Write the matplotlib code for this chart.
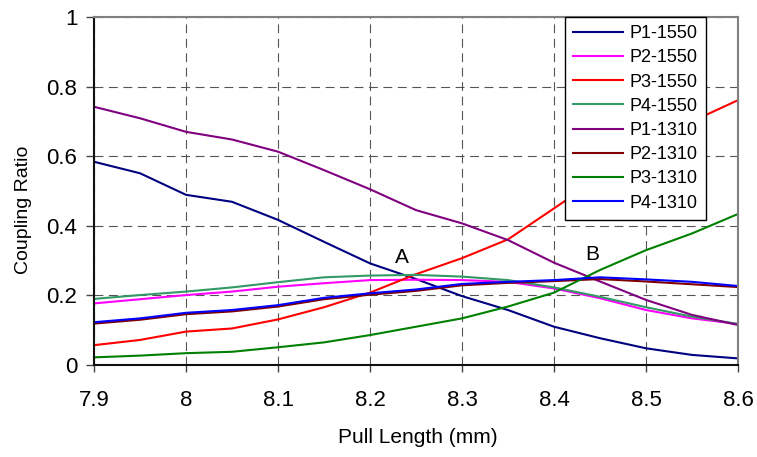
import matplotlib.pyplot as plt
from matplotlib.ticker import FormatStrFormatter

plt.rcParams["font.family"] = ["Liberation Sans", "DejaVu Sans"]

# Longitud de estiramiento (mm)
pull_length = [7.9, 7.95, 8.0, 8.05, 8.1, 8.15, 8.2, 8.25, 8.3, 8.35, 8.4, 8.45, 8.5, 8.55, 8.6]

# Razones de acoplamiento
p1_1550 = [0.584, 0.551, 0.489, 0.469, 0.417, 0.354, 0.292, 0.247, 0.198, 0.158, 0.110, 0.077, 0.048, 0.029, 0.019]
p2_1550 = [0.177, 0.189, 0.201, 0.211, 0.225, 0.235, 0.244, 0.245, 0.244, 0.239, 0.220, 0.192, 0.158, 0.134, 0.118]
p3_1550 = [0.057, 0.072, 0.096, 0.105, 0.131, 0.166, 0.208, 0.261, 0.307, 0.361, 0.450, 0.540, 0.620, 0.700, 0.761]
p4_1550 = [0.190, 0.201, 0.211, 0.223, 0.238, 0.252, 0.257, 0.259, 0.254, 0.244, 0.223, 0.196, 0.166, 0.139, 0.118]
p1_1310 = [0.742, 0.709, 0.670, 0.648, 0.613, 0.560, 0.505, 0.445, 0.407, 0.359, 0.294, 0.240, 0.187, 0.144, 0.115]
p2_1310 = [0.119, 0.130, 0.146, 0.154, 0.168, 0.189, 0.202, 0.213, 0.229, 0.236, 0.241, 0.247, 0.240, 0.232, 0.224]
p3_1310 = [0.022, 0.027, 0.034, 0.038, 0.051, 0.065, 0.086, 0.110, 0.134, 0.168, 0.208, 0.273, 0.330, 0.378, 0.434]
p4_1310 = [0.123, 0.134, 0.150, 0.158, 0.172, 0.193, 0.206, 0.217, 0.233, 0.239, 0.244, 0.252, 0.246, 0.239, 0.227]

series = [
    ("P1-1550", p1_1550, "#000080"),
    ("P2-1550", p2_1550, "#ff00ff"),
    ("P3-1550", p3_1550, "#ff0000"),
    ("P4-1550", p4_1550, "#339966"),
    ("P1-1310", p1_1310, "#800080"),
    ("P2-1310", p2_1310, "#800000"),
    ("P3-1310", p3_1310, "#008000"),
    ("P4-1310", p4_1310, "#0000ff"),
]

fig = plt.figure(figsize=(7.57, 4.57), dpi=100)
ax = fig.add_axes([0.1242, 0.2013, 0.8507, 0.7615])

for nombre, valores, color in series:
    ax.plot(pull_length, valores, color=color, linewidth=1.5, label=nombre)

ax.set_xlim(7.9, 8.6)
ax.set_ylim(0, 1)
ax.set_xticks([7.9, 8.0, 8.1, 8.2, 8.3, 8.4, 8.5, 8.6])
ax.set_yticks([0, 0.2, 0.4, 0.6, 0.8, 1.0])
ax.xaxis.set_major_formatter(FormatStrFormatter("%g"))
ax.yaxis.set_major_formatter(FormatStrFormatter("%g"))

ax.grid(True, color="#555555", linewidth=0.8, linestyle=(0, (8, 5)))
ax.set_axisbelow(True)

ax.tick_params(axis="x", direction="out", length=5, width=1, color="#444444",
               labelsize=16, pad=13)
ax.tick_params(axis="y", direction="out", length=6, width=1, color="#444444",
               labelsize=16, pad=6)

for lado in ["left", "bottom"]:
    ax.spines[lado].set_color("#111111")
    ax.spines[lado].set_linewidth(1.5)
for lado in ["top", "right"]:
    ax.spines[lado].set_color("#808080")
    ax.spines[lado].set_linewidth(1.5)

ax.set_xlabel("Pull Length (mm)", fontsize=15)
ax.set_ylabel("Coupling Ratio", fontsize=14)
ax.xaxis.set_label_coords(0.503, -0.207)
ax.yaxis.set_label_coords(-0.109, 0.445)
ax.xaxis.label.set_va("center")
ax.yaxis.label.set_va("center")

ax.text(8.235, 0.309, "A", fontsize=15, ha="center", va="center")
ax.text(8.442, 0.3175, "B", fontsize=15, ha="center", va="center")

leg = ax.legend(loc="upper right", bbox_to_anchor=(0.950, 1.0), fontsize=13,
                frameon=True, fancybox=False, shadow=False, borderpad=0.45,
                labelspacing=0.4, handlelength=2.8, handletextpad=0.35,
                borderaxespad=0)
leg.get_frame().set_edgecolor("black")
leg.get_frame().set_linewidth(1.0)
leg.get_frame().set_alpha(1)

fig.savefig("out.png", dpi=100)
